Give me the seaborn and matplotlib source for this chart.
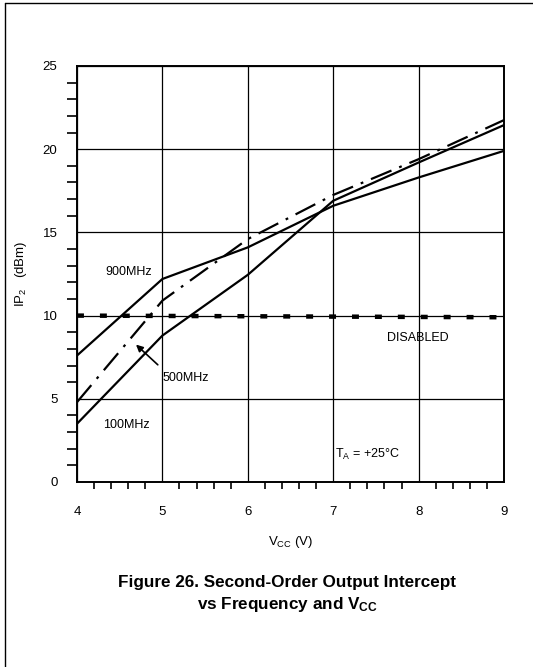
import numpy as np
import pandas as pd
import matplotlib
matplotlib.use("Agg")
import matplotlib.pyplot as plt
from matplotlib.lines import Line2D
import seaborn as sns

# Supply voltage (V) and second-order output intercept IP2 (dBm) per frequency
vcc_100 = [4, 5, 6, 7, 8, 9]
ip2_100 = [3.5, 8.8, 12.45, 16.9, 19.2, 21.45]

vcc_500 = [4, 5, 6, 7, 8, 9]
ip2_500 = [4.8, 10.9, 14.6, 17.25, 19.4, 21.75]

vcc_900 = [4, 5, 6, 7, 8, 9]
ip2_900 = [7.6, 12.2, 14.1, 16.6, 18.3, 19.9]

vcc_disabled = [4, 9]
ip2_disabled = [10.0, 9.9]

x_ticks = [4, 5, 6, 7, 8, 9]
y_ticks = [0, 5, 10, 15, 20, 25]

sns.set_style("white")
plt.rcParams["font.family"] = ["Liberation Sans", "DejaVu Sans"]
plt.rcParams["mathtext.fontset"] = "custom"
plt.rcParams["mathtext.rm"] = "Liberation Sans"
plt.rcParams["mathtext.it"] = "Liberation Sans"
plt.rcParams["mathtext.bf"] = "Liberation Sans:bold"
plt.rcParams["lines.scale_dashes"] = False
for key in ["text.color", "axes.labelcolor", "xtick.color", "ytick.color",
            "xtick.labelcolor", "ytick.labelcolor"]:
    plt.rcParams[key] = "black"

W, H = 533, 667
fig = plt.figure(figsize=(W / 100, H / 100), dpi=100)
ax = fig.add_axes([77 / W, 1 - 482 / H, (504 - 77) / W, (482 - 66) / H])

df100 = pd.DataFrame({"vcc": vcc_100, "ip2": ip2_100})
df500 = pd.DataFrame({"vcc": vcc_500, "ip2": ip2_500})
df900 = pd.DataFrame({"vcc": vcc_900, "ip2": ip2_900})
dfdis = pd.DataFrame({"vcc": vcc_disabled, "ip2": ip2_disabled})

sns.lineplot(data=df100, x="vcc", y="ip2", ax=ax, color="black", lw=1.6)
sns.lineplot(data=df900, x="vcc", y="ip2", ax=ax, color="black", lw=1.6)
sns.lineplot(data=df500, x="vcc", y="ip2", ax=ax, color="black", lw=1.6,
             linestyle=(0, (16, 6, 2, 6)))
sns.lineplot(data=dfdis, x="vcc", y="ip2", ax=ax, color="black", lw=3.2,
             linestyle=(0, (5, 11.5)), solid_capstyle="butt",
             dash_capstyle="butt")

ax.set_xlim(4, 9)
ax.set_ylim(0, 25)
ax.set_xticks(x_ticks)
ax.set_xticklabels([str(v) for v in x_ticks])
ax.set_yticks(y_ticks)
ax.set_yticklabels([str(v) for v in y_ticks])
ax.set_xticks(np.arange(4, 9.01, 0.2), minor=True)
ax.set_yticks(np.arange(0, 25.01, 1), minor=True)

ax.grid(True, which="major", color="black", lw=0.9)
for s in ax.spines.values():
    s.set_color("black")
    s.set_linewidth(1.4)

ax.tick_params(axis="x", which="major", direction="out", length=12, width=1.2,
               pad=5, labelsize=9.5, color="black")
ax.tick_params(axis="x", which="minor", direction="out", length=5, width=1.2,
               color="black", bottom=True)
ax.tick_params(axis="y", which="major", direction="out", length=11, width=1.2,
               pad=3, labelsize=9.5, color="black")
ax.tick_params(axis="y", which="minor", direction="out", length=7, width=1.2,
               color="black", left=True)

ax.set_xlabel(r"V$_{\mathregular{CC}}$ (V)", fontsize=9.5, labelpad=12)
ax.set_ylabel(r"IP$_{\mathregular{2}}$   (dBm)", fontsize=9.5, labelpad=10)

ax.text(4.33, 12.6, "900MHz", fontsize=9, va="center", ha="left")
ax.text(5.0, 6.28, "500MHz", fontsize=9, va="center", ha="left")
ax.text(4.30, 3.43, "100MHz", fontsize=9, va="center", ha="left")
ax.text(7.63, 8.68, "DISABLED", fontsize=9, va="center", ha="left")
ax.text(7.02, 1.68, r"T$_{\mathregular{A}}$ = +25°C", fontsize=9,
        va="center", ha="left")
ax.annotate("", xy=(4.667, 8.37), xytext=(4.97, 6.93),
            arrowprops=dict(arrowstyle="-|>", color="black", lw=1.2,
                            mutation_scale=10))

fig.text(287 / W, 1 - 583 / H, "Figure 26. Second-Order Output Intercept",
         ha="center", va="center", fontsize=12.3, fontweight="bold")
fig.text(287 / W, 1 - 604 / H, r"vs Frequency and V$_{\mathbf{CC}}$",
         ha="center", va="center", fontsize=12.3, fontweight="bold")

# page frame edges
fig.add_artist(Line2D([5 / W, 5 / W], [0, 1 - 3 / H], color="black", lw=1.0,
                      transform=fig.transFigure))
fig.add_artist(Line2D([5 / W, 1], [1 - 3 / H, 1 - 3 / H], color="black", lw=1.0,
                      transform=fig.transFigure))

fig.savefig("out.png", dpi=100)
